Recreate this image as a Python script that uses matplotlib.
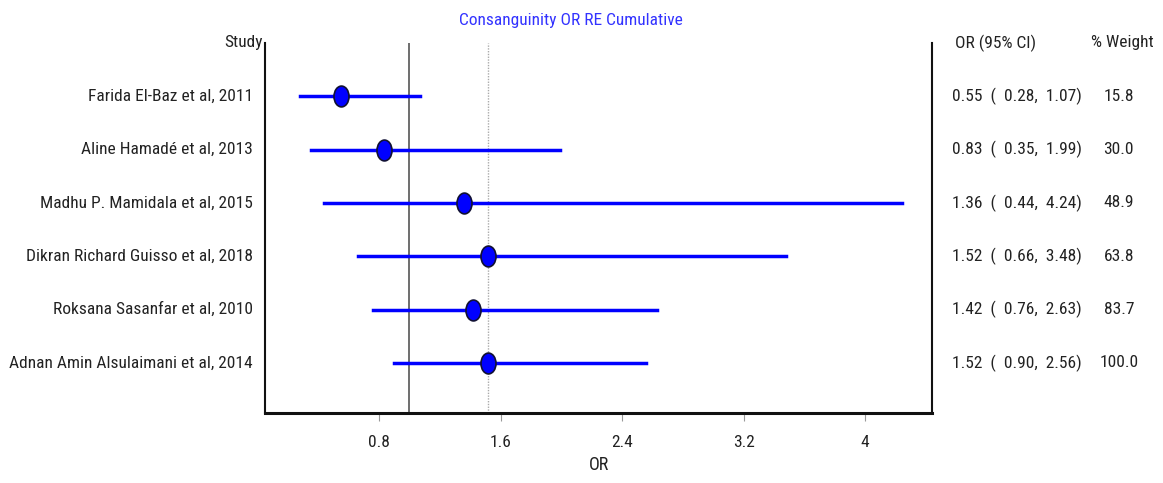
import matplotlib.pyplot as plt
from matplotlib import font_manager
from matplotlib.path import Path
from matplotlib.transforms import Affine2D

# --- data ---
studies = [
    'Farida El-Baz et al, 2011',
    'Aline Hamadé et al, 2013',
    'Madhu P. Mamidala et al, 2015',
    'Dikran Richard Guisso et al, 2018',
    'Roksana Sasanfar et al, 2010',
    'Adnan Amin Alsulaimani et al, 2014',
]
odds = [0.55, 0.83, 1.36, 1.52, 1.42, 1.52]
ci_low = [0.28, 0.35, 0.44, 0.66, 0.76, 0.90]
ci_high = [1.07, 1.99, 4.24, 3.48, 2.63, 2.56]
weights = [15.8, 30.0, 48.9, 63.8, 83.7, 100.0]
pooled = 1.52
xticks = [0.8, 1.6, 2.4, 3.2, 4.0]
xtick_labels = ['0.8', '1.6', '2.4', '3.2', '4']

# narrow sans, close to Arial Narrow
names = {f.name for f in font_manager.fontManager.ttflist}
fam = 'DejaVu Sans'
for cand in ['Liberation Sans Narrow', 'Roboto Condensed', 'PT Sans Narrow', 'Archivo Narrow']:
    if cand in names:
        fam = cand
        break
plt.rcParams['font.family'] = [fam, 'DejaVu Sans']

FS = 12.5
TXT = '#222222'

# slightly tall ellipse like the reference markers
ellipse = Path.unit_circle().transformed(Affine2D().scale(0.72, 1.0))

fig = plt.figure(figsize=(11.63, 4.83), dpi=100)
ax = fig.add_axes([265 / 1163, 70 / 483, 667 / 1163, 370 / 483])

n = len(studies)
ys = [n - i for i in range(n)]

ax.axvline(1.0, color='#555555', lw=1.2, zorder=1)
ax.axvline(pooled, color='#aaaaaa', lw=1.0, ls=(0, (1, 1)), zorder=1)

for y, o, lo, hi in zip(ys, odds, ci_low, ci_high):
    ax.plot([lo, hi], [y, y], color='#0000ff', lw=2.5, zorder=2)
    ax.plot(o, y, marker=ellipse, ms=15, mfc='#0000ff', mec='#111133', mew=1.2, zorder=3)

ax.set_xlim(0.05, 4.44)
ax.set_ylim(0.06, 7.0)
ax.set_xticks(xticks)
ax.set_xticklabels(xtick_labels, fontsize=FS, color=TXT)
ax.tick_params(axis='x', direction='out', length=6, color='#999999', pad=10)
ax.set_yticks([])
ax.set_xlabel('OR', fontsize=13, color=TXT, labelpad=4)

ax.spines['top'].set_visible(False)
for s in ['left', 'right']:
    ax.spines[s].set_linewidth(1.5)
    ax.spines[s].set_color('#111111')
ax.spines['bottom'].set_linewidth(2.2)
ax.spines['bottom'].set_color('#111111')

tr = ax.get_yaxis_transform()
for y, s in zip(ys, studies):
    ax.text(-0.018, y, s, transform=tr, ha='right', va='center',
            fontsize=FS, color=TXT, clip_on=False)
ax.text(-0.004, 7.0, 'Study', transform=tr, ha='right', va='center',
        fontsize=FS, color=TXT, clip_on=False)

for y, o, lo, hi, w in zip(ys, odds, ci_low, ci_high, weights):
    ax.text(1.03, y, f'{o:.2f}  (  {lo:.2f},  {hi:.2f})', transform=tr,
            ha='left', va='center', fontsize=FS, color=TXT, clip_on=False)
    ax.text(1.28, y, f'{w:.1f}', transform=tr, ha='center', va='center',
            fontsize=FS, color=TXT, clip_on=False)
ax.text(1.035, 7.0, 'OR (95% CI)', transform=tr, ha='left', va='center',
        fontsize=FS, color=TXT, clip_on=False)
ax.text(1.285, 7.0, '% Weight', transform=tr, ha='center', va='center',
        fontsize=FS, color=TXT, clip_on=False)

fig.text(571 / 1163, 1 - 20 / 483, 'Consanguinity OR RE Cumulative',
         ha='center', va='center', fontsize=FS, color='#3333ff')

fig.savefig('out.png', dpi=100)
